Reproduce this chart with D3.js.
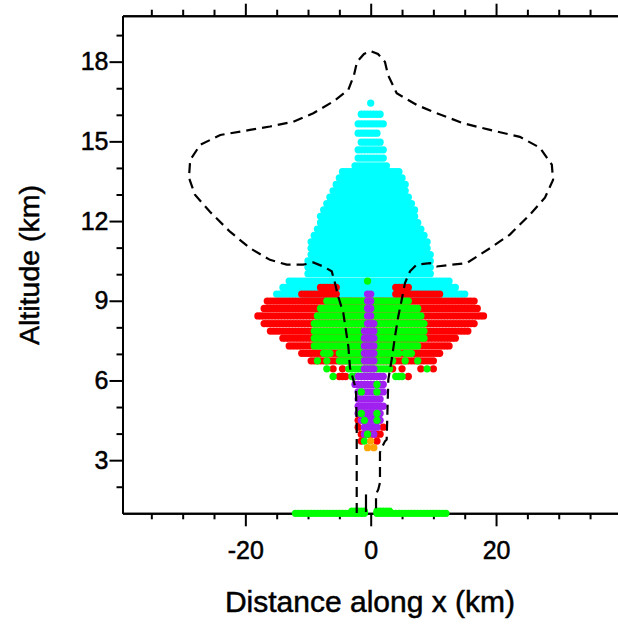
<!DOCTYPE html>
<html>
<head>
<meta charset="utf-8">
<script src="https://cdn.jsdelivr.net/npm/d3@7"></script>
<style>
  body { margin: 0; background: #fff; }
  svg { display: block; }
  text { font-family: "Liberation Sans", Arial, Helvetica, sans-serif; fill: #000; stroke: #000; stroke-width: 0.5px; }
</style>
</head>
<body>
<div class="chartWrap"></div>
<script>
//Data: each row is [altitude (km), first x (km), last x (km)], points every 0.5 km
const rowCyan = [
  [16.44, 0, 0], [16.02, -1.5, 1.5], [15.66, -2, 2], [15.31, -2, 1], [14.97, -1.5, 1.5],
  [14.68, -2, 2], [14.37, -2, 2], [14.08, -2.5, 2.5], [13.86, -4.5, 4.5], [13.62, -5, 5],
  [13.38, -5.5, 5.5], [13.14, -6, 5.5], [12.90, -6.5, 6], [12.66, -7, 6.5], [12.42, -7.5, 7],
  [12.18, -8, 7], [11.94, -8, 7.5], [11.70, -8.5, 8], [11.46, -9, 8.5], [11.22, -9.5, 9],
  [10.98, -9.5, 9], [10.74, -9.5, 9.5], [10.50, -10, 9.5], [10.26, -10, 9.5], [10.02, -10, 9.5],
  [9.74, -13, 12.5], [9.50, -14, 13.5], [9.25, -15, 15]
];
const rowRed = [
  [9.50, -8, -5.5], [9.50, 4, 6], [9.25, -11, -5.5], [9.25, 4, 11],
  [8.99, -16.5, 16.5], [8.71, -17, 17], [8.43, -18, 18], [8.14, -17, 16.5], [7.86, -16, 15.5],
  [7.59, -14, 13.5], [7.30, -13, 12.5], [7.02, -11, 11], [6.74, -9.5, 10],
  [6.44, -6, -6], [6.44, -4.5, -4.5], [6.44, 3.5, 3.5], [6.44, 5, 5], [6.44, 8, 8], [6.44, 10, 10],
  [6.15, -5, -4], [6.15, 6, 6],
  [4.50, -2, -2], [4.24, -2, -2], [4.24, 2, 2], [3.98, -1.5, 1.5], [3.72, -1.5, -1.5], [3.72, 1, 1]
];
const rowGreen = [
  [9.74, -0.5, -0.5],
  [8.99, -7, 6], [8.71, -8, 7.5], [8.43, -8.5, 8], [8.14, -9, 8.5], [7.86, -9, 8.5],
  [7.59, -9, 8.5], [7.30, -9, 7.5],
  [7.02, -7.5, -6.5], [7.02, -5, 4.5], [7.02, 5.5, 6.5],
  [6.74, -8.5, -8.5], [6.74, -7, -7], [6.74, -5, 3.5], [6.74, 5.5, 5.5], [6.74, 7.5, 7.5],
  [6.44, -7, -7], [6.44, -3.5, 3], [6.44, 9, 9],
  [6.15, -6, -6], [6.15, -3, -2.5], [6.15, 4, 5],
  [1.08, -3, -1], [1.08, 1, 3], [1.0, -12, -1], [1.0, 1, 12]
];
const rowPurple = [
  [9.25, -0.5, 0], [8.99, -0.5, 0], [8.71, -0.5, 0], [8.43, -0.5, 0], [8.14, -0.5, 0.5],
  [7.86, -1, 0.5], [7.59, -1, 0.5], [7.30, -1, 0.5], [7.02, -1, 0.5], [6.74, -1, 0.5],
  [6.44, -1, 0.5], [6.15, -2, 2], [5.85, -2.5, 2], [5.57, -2, 2], [5.30, -2, 1.5],
  [5.03, -2, 2], [4.76, -2, 1.5], [4.50, -1.5, 1.5], [4.24, -1, 1], [3.98, -1, -1], [3.98, 0.5, 0.5]
];
const rowGreenTop = [
  [5.85, 1, 1], [5.57, -1.5, -1.5], [5.57, 1, 1], [4.76, -1.5, -1.5], [4.76, 1, 1],
  [4.50, -1, -1], [4.50, 1, 1], [3.98, -0.5, -0.5], [3.72, -1, -1]
];
const rowOrange = [[3.72, 0, 0], [3.47, -0.5, -0.5], [3.47, 0.5, 0.5]];

//Dashed contour, traced from the bottom of the left tube round to the bottom of the right one
const contourX = [-2.23, -2.23, -2.35, -3.30, -3.57, -4.37, -5.22, -5.70, -6.22, -7.56, -9.16, -10.75,
  -13.40, -16.07, -19.26, -22.45, -25.65, -28.04, -29.0, -28.8, -27.2, -24.0, -19.26, -16.07, -12.35,
  -9.16, -5.97, -3.57, -2.66, -2.19, -1.07, 0, 1.16, 2.28, 2.76, 4.15, 7.34, 10.53, 14.78, 19.04, 23.8,
  27.0, 28.9, 29.1, 27.8, 25.4, 22.2, 19.04, 15.32, 10.53, 9.46, 7.34, 6.27, 5.47, 4.95, 4.40, 3.88,
  3.35, 2.81, 2.55, 2.28, 1.76, 1.48, 1.48, 1.21, 0.85, 0.85];
const contourY = [1.01, 4.28, 5.66, 6.47, 7.29, 8.54, 9.19, 9.67, 10.11, 10.29, 10.44, 10.36,
  10.36, 10.54, 10.98, 11.60, 12.35, 12.99, 13.63, 14.3, 14.87, 15.24, 15.43, 15.56, 15.74,
  16.06, 16.50, 16.94, 17.5, 17.99, 18.29, 18.4, 18.29, 17.99, 17.5, 16.81, 16.37, 16.06, 15.68, 15.43, 15.17,
  14.76, 14.12, 13.55, 12.88, 12.24, 11.49, 10.98, 10.42, 10.29, 10.42, 10.36, 10.11, 9.67, 9.04, 8.41, 7.66,
  6.79, 6.03, 3.78, 3.71, 3.47, 3.29, 2.16, 1.90, 1.71, 1.01];
const stubX = [-0.75, -0.75];
const stubY = [1.71, 1.05];

const xMajor = [-20, 0, 20];
const yMajor = [3, 6, 9, 12, 15, 18];

//Layout
const W = 618, H = 624;
const x = d3.scaleLinear().domain([-39.6, 40]).range([122.5, 621.4]);
const y = d3.scaleLinear().domain([1, 19.73]).range([513.3, 15.7]);

const svg = d3.select(".chartWrap").append("svg").attr("width", W).attr("height", H);

function expand(rows) {
  let pts = [];
  rows.forEach(function(r) {
    d3.range(r[1], r[2] + 0.25, 0.5).forEach(function(v) { pts.push([v, r[0]]); });
  });
  return pts;
}

//Axes (drawn first, markers go over them)
function styleAxis(g) {
  g.select(".domain").attr("stroke-width", 2).attr("stroke", "#000");
  g.selectAll(".tick line").attr("stroke-width", 2).attr("stroke", "#000");
}
const xMinor = d3.range(-35, 40, 5).filter(function(v) { return xMajor.indexOf(v) < 0; });
const yMinor = d3.range(2, 20, 1).filter(function(v) { return yMajor.indexOf(v) < 0; });

svg.append("g").attr("transform", "translate(0," + y(1) + ")")
  .call(d3.axisBottom(x).tickValues(xMinor).tickSize(6).tickSizeOuter(0).tickFormat(""))
  .call(styleAxis);
svg.append("g").attr("transform", "translate(0," + y(1) + ")")
  .call(d3.axisBottom(x).tickValues(xMajor).tickSize(13).tickSizeOuter(0).tickPadding(15))
  .call(styleAxis)
  .call(function(g) { g.selectAll("text").attr("font-size", 25).text(function(d) { return d; }); });

svg.append("g").attr("transform", "translate(0," + y(19.73) + ")")
  .call(d3.axisTop(x).tickValues(xMinor).tickSize(6).tickSizeOuter(0).tickFormat(""))
  .call(styleAxis);
svg.append("g").attr("transform", "translate(0," + y(19.73) + ")")
  .call(d3.axisTop(x).tickValues(xMajor).tickSize(12).tickSizeOuter(0).tickFormat(""))
  .call(styleAxis);

svg.append("g").attr("transform", "translate(" + x(-39.6) + ",0)")
  .call(d3.axisLeft(y).tickValues(yMinor).tickSize(6).tickSizeOuter(0).tickFormat(""))
  .call(styleAxis);
svg.append("g").attr("transform", "translate(" + x(-39.6) + ",0)")
  .call(d3.axisLeft(y).tickValues(yMajor).tickSize(13).tickSizeOuter(0).tickPadding(1))
  .call(styleAxis)
  .call(function(g) { g.selectAll("text").attr("font-size", 25); });

//Markers
const layers = [
  [rowCyan, "#00ffff"], [rowRed, "#ff0000"], [rowGreen, "#00ff00"],
  [rowPurple, "#a020f0"], [rowGreenTop, "#00ff00"], [rowOrange, "#ffa500"]
];
layers.forEach(function(l) {
  svg.append("g").selectAll("circle")
    .data(expand(l[0]))
    .enter().append("circle")
      .attr("cx", function(d) { return x(d[0]); })
      .attr("cy", function(d) { return y(d[1]); })
      .attr("r", 3.65)
      .attr("fill", l[1]);
});

//Contours
const line = d3.line().x(function(d) { return x(d[0]); }).y(function(d) { return y(d[1]); });
svg.append("path")
  .attr("d", line(d3.zip(contourX, contourY)))
  .attr("fill", "none").attr("stroke", "#000").attr("stroke-width", 2.2)
  .attr("stroke-dasharray", "10,6");
svg.append("path")
  .attr("d", line(d3.zip(stubX, stubY)))
  .attr("fill", "none").attr("stroke", "#000").attr("stroke-width", 2.2);

//Titles
svg.append("text").attr("x", 370).attr("y", 612).attr("text-anchor", "middle")
  .attr("font-size", 30).text("Distance along x (km)");
svg.append("text").attr("transform", "translate(39,265) rotate(-90)").attr("text-anchor", "middle")
  .attr("font-size", 28.5).text("Altitude (km)");
</script>
</body>
</html>
